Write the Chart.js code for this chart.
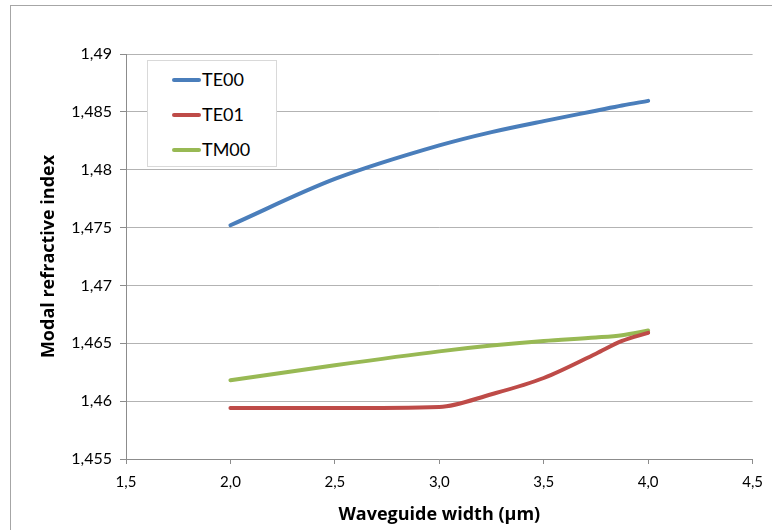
<!DOCTYPE html>
<html lang="en">
<head>
    <meta charset="UTF-8">
    <title>Modal refractive index</title>
    <script src="https://cdn.jsdelivr.net/npm/chart.js"></script>
    <style>
        html, body { margin: 0; padding: 0; overflow: hidden; background: #fff; }
        .frame {
            position: absolute; left: 10px; top: 5px;
            width: 800px; height: 560px;
            border: 1px solid #a6a6a6;
        }
        .chart-container { position: absolute; left: 0; top: 0; width: 772px; height: 530px; }
        #legend {
            position: absolute; left: 147px; top: 60px;
            width: 128px; height: 105px;
            background: #fff; border: 1px solid #d9d9d9;
            font-family: Lato, sans-serif; font-size: 18px; color: #000;
        }
        .legend-item { position: absolute; left: 24px; height: 20px; }
        .legend-item span.swatch {
            position: absolute; left: 0; top: 8px; width: 29px; height: 4px; border-radius: 2px;
        }
        .legend-item span.label { position: absolute; left: 30px; top: -2px; white-space: nowrap; }
    </style>
</head>
<body>
    <div class="frame"></div>
    <div class="chart-container">
        <canvas id="modeChart" width="772" height="530"></canvas>
    </div>
    <div id="legend"></div>

    <script>
        // waveguide width (µm)
        const widths = [2.0, 2.5, 3.0, 3.25, 3.5, 3.75, 3.875, 4.0];
        const te00 = [1.4752, 1.4792, 1.4821, 1.48325, 1.4842, 1.4851, 1.48555, 1.48595];
        const te01 = [1.4594, 1.4594, 1.4595, 1.4606, 1.4620, 1.4641, 1.4652, 1.4659];
        const tm00 = [1.4618, 1.4631, 1.4643, 1.4648, 1.4652, 1.4655, 1.4657, 1.4661];
        const seriesNames = ['TE00', 'TE01', 'TM00'];
        const seriesColors = ['#4a7ebb', '#be4b48', '#98b954'];

        const font = 'Lato, sans-serif';
        const titleFont = '"Open Sans", sans-serif';
        const comma = s => s.replace('.', ',');

        const toPoints = ys => widths.map((x, i) => ({ x: x, y: ys[i] }));
        const datasets = [te00, te01, tm00].map((ys, i) => ({
            label: seriesNames[i],
            data: toPoints(ys),
            borderColor: seriesColors[i],
            backgroundColor: seriesColors[i],
            borderWidth: 4,
            borderCapStyle: 'round',
            pointRadius: 0,
            showLine: true,
            cubicInterpolationMode: 'monotone'
        }));

        const ctx = document.getElementById('modeChart').getContext('2d');
        const modeChart = new Chart(ctx, {
            type: 'scatter',
            data: { datasets: datasets },
            options: {
                responsive: false,
                animation: false,
                layout: { padding: { left: 10, right: 19, top: 54, bottom: 0 } },
                plugins: { legend: { display: false }, tooltip: { enabled: false } },
                scales: {
                    x: {
                        min: 1.5, max: 4.5,
                        ticks: {
                            stepSize: 0.5,
                            color: '#000',
                            font: { family: font, size: 15 },
                            padding: 9,
                            callback: v => comma(v.toFixed(1))
                        },
                        grid: {
                            drawOnChartArea: false,
                            color: '#8c8c8c',
                            tickLength: 5
                        },
                        border: { color: '#8c8c8c' },
                        title: {
                            display: true,
                            text: 'Waveguide width (µm)',
                            color: '#000',
                            font: { family: titleFont, size: 18, weight: 'bold' },
                            padding: { top: 2 }
                        },
                        afterFit: s => { s.height = 71; }
                    },
                    y: {
                        min: 1.455, max: 1.49,
                        ticks: {
                            stepSize: 0.005,
                            color: '#000',
                            font: { family: font, size: 16 },
                            padding: 8,
                            callback: v => comma(String(parseFloat(v.toFixed(3))))
                        },
                        grid: {
                            color: '#b3b3b3',
                            tickColor: '#8c8c8c',
                            tickLength: 6
                        },
                        border: { color: '#8c8c8c' },
                        title: {
                            display: true,
                            text: 'Modal refractive index',
                            color: '#000',
                            font: { family: titleFont, size: 18, weight: 'bold' },
                            padding: { top: 28, bottom: 0 }
                        },
                        afterFit: s => { s.width = 116; }
                    }
                }
            }
        });

        // legend box inside the plot area, built from the datasets
        const legendEl = document.getElementById('legend');
        modeChart.data.datasets.forEach((ds, i) => {
            const item = document.createElement('div');
            item.className = 'legend-item';
            item.style.top = (9 + i * 35) + 'px';
            item.innerHTML = '<span class="swatch" style="background:' + ds.borderColor +
                '"></span><span class="label">' + ds.label + '</span>';
            legendEl.appendChild(item);
        });
    </script>
</body>
</html>
